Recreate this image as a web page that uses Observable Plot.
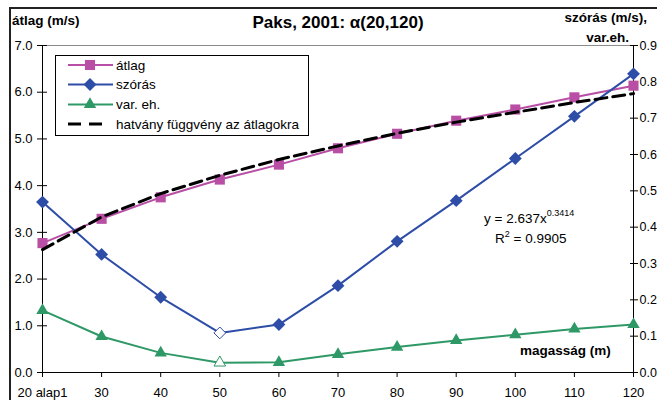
<!DOCTYPE html>
<html><head><meta charset="utf-8">
<script src="https://cdn.jsdelivr.net/npm/d3@7"></script>
<script src="https://cdn.jsdelivr.net/npm/@observablehq/plot@0.6"></script>
<style>
html,body{margin:0;padding:0;background:#fff;overflow:hidden;}
#wrap{position:relative;width:657px;height:400px;overflow:hidden;font-family:Arial,"Liberation Sans",sans-serif;background:#fff;}
#frame{position:absolute;left:9px;top:7px;width:720px;height:460px;border:2px solid #222;box-sizing:border-box;pointer-events:none}
.t{position:absolute;white-space:nowrap;color:#000;line-height:1;}
.b{font-weight:bold;}
svg.ov{position:absolute;left:0;top:0;pointer-events:none;overflow:visible}
</style></head><body><div id="wrap"><div id="frame"></div></div>
<script>
// ---- data ----
const heights = [20, 30, 40, 50, 60, 70, 80, 90, 100, 110, 120];
const xTickLabels = ["20 alap1", "30", "40", "50", "60", "70", "80", "90", "100", "110", "120"];
const atlag   = [2.77, 3.29, 3.75, 4.13, 4.45, 4.80, 5.11, 5.39, 5.63, 5.89, 6.14];
const szoras  = [0.469, 0.325, 0.207, 0.109, 0.132, 0.239, 0.361, 0.473, 0.589, 0.705, 0.822];
const varEh   = [0.171, 0.099, 0.054, 0.027, 0.028, 0.050, 0.070, 0.088, 0.104, 0.120, 0.132];
const hatvany = [2.63, 3.33, 3.83, 4.22, 4.56, 4.85, 5.12, 5.36, 5.57, 5.78, 5.97];
const leftTicks = [0, 1, 2, 3, 4, 5, 6, 7];
const rightTicks = [0, 0.1, 0.2, 0.3, 0.4, 0.5, 0.6, 0.7, 0.8, 0.9];
const hollowAt = 50;
const seriesNames = ["átlag", "szórás", "var. eh.", "hatvány függvény az átlagokra"];

const C_PINK = "#B84FA5", C_BLUE = "#2E4DA7", C_GREEN = "#2E9966";
const k = 7 / 0.9; // right axis -> left axis units

const rY = (arr) => (d, i) => arr[i] * k;

const plot = Plot.plot({
  width: 657, height: 400,
  marginLeft: 42, marginRight: 24, marginTop: 45, marginBottom: 28,
  style: {fontFamily: "Arial, 'Liberation Sans', sans-serif", fontSize: "13px", background: "transparent", overflow: "visible"},
  x: {type: "linear", domain: [20, 120]},
  y: {domain: [0, 7]},
  marks: [
    Plot.ruleY([7], {stroke: "#8c8c8c", strokeWidth: 1}),
    Plot.ruleY([0], {stroke: "#000", strokeWidth: 1}),
    Plot.ruleX([20, 120], {stroke: "#000", strokeWidth: 1}),
    Plot.axisX(heights, {tickSize: 5, tickPadding: 10, stroke: "#000", tickFormat: d => xTickLabels[heights.indexOf(d)], label: null, fontSize: 13}),
    Plot.axisY(leftTicks, {anchor: "left", tickSize: 10, dx: 5, stroke: "#000", tickFormat: () => "", label: null}),
    Plot.axisY(leftTicks, {anchor: "left", tickSize: 0, tickPadding: 10, tickFormat: d => d.toFixed(1), label: null, fontSize: 13}),
    Plot.axisY(rightTicks.map(v => v * k), {anchor: "right", tickSize: 8, dx: -4, stroke: "#000", tickFormat: () => "", label: null}),
    Plot.axisY(rightTicks.map(v => v * k), {anchor: "right", tickSize: 0, tickPadding: 6, tickFormat: d => (d / k).toFixed(1), label: null, fontSize: 12.5}),
    // átlag
    Plot.line(heights, {x: heights, y: atlag, stroke: C_PINK, strokeWidth: 2}),
    Plot.dot(heights, {x: heights, y: atlag, symbol: "square", r: 5.7, fill: C_PINK, stroke: "none"}),
    // szórás
    Plot.line(heights, {x: heights, y: rY(szoras), stroke: C_BLUE, strokeWidth: 2}),
    Plot.dot(heights, {x: heights, y: rY(szoras), filter: d => d !== hollowAt, symbol: "diamond2", r: 5.8, fill: C_BLUE, stroke: "none"}),
    Plot.dot(heights, {x: heights, y: rY(szoras), filter: d => d === hollowAt, symbol: "diamond2", r: 5.3, fill: "white", stroke: C_BLUE, strokeWidth: 1}),
    // var. eh.
    Plot.line(heights, {x: heights, y: rY(varEh), stroke: C_GREEN, strokeWidth: 2}),
    Plot.dot(heights, {x: heights, y: rY(varEh), filter: d => d !== hollowAt, symbol: "triangle", r: 4.6, fill: C_GREEN, stroke: "none"}),
    Plot.dot(heights, {x: heights, y: rY(varEh), filter: d => d === hollowAt, symbol: "triangle", r: 4.3, fill: "white", stroke: C_GREEN, strokeWidth: 1}),
    // power trendline
    Plot.line(heights, {x: heights, y: hatvany, stroke: "#000", strokeWidth: 3, strokeDasharray: "12,6"})
  ]
});
plot.style.position = "absolute"; plot.style.left = "0"; plot.style.top = "0";
const wrap = document.getElementById("wrap");
wrap.insertBefore(plot, wrap.firstChild);

function addText(html, css, cls) {
  const d = document.createElement("div");
  d.className = "t " + (cls || "");
  d.innerHTML = html;
  Object.assign(d.style, css);
  wrap.appendChild(d);
  return d;
}
addText("Paks, 2001: α(20,120)", {left: "0", width: "676px", textAlign: "center", top: "13.5px", fontSize: "17px"}, "b");
addText("átlag (m/s)", {left: "12px", top: "13.6px", fontSize: "13.5px"}, "b");
addText("szórás (m/s),", {right: "10px", top: "10.6px", fontSize: "13.5px"}, "b");
addText("var.eh.", {right: "28px", top: "30.6px", fontSize: "13.5px"}, "b");
addText("magasság (m)", {left: "520px", top: "343.6px", fontSize: "13.5px"}, "b");
addText('y = 2.637x<span style="font-size:9px;position:relative;top:-7px">0.3414</span>', {left: "484px", top: "211.6px", fontSize: "13.5px"});
addText('R<span style="font-size:9px;position:relative;top:-6px">2</span> = 0.9905', {left: "495px", top: "231.6px", fontSize: "13.5px"});

// legend
const lg = d3.select(wrap).append("svg").attr("class", "ov").attr("width", 657).attr("height", 400);
lg.append("rect").attr("x", 55.5).attr("y", 55.5).attr("width", 253).attr("height", 80)
  .attr("fill", "#fff").attr("stroke", "#000").attr("stroke-width", 1);
const rows = [65, 84.5, 104.5, 124];
const sym = [
  {c: C_PINK, s: d3.symbolSquare, r: 5.7},
  {c: C_BLUE, s: d3.symbolDiamond2, r: 5.8},
  {c: C_GREEN, s: d3.symbolTriangle, r: 4.6},
  null
];
seriesNames.forEach((name, i) => {
  const y = rows[i];
  if (i < 3) {
    lg.append("line").attr("x1", 68).attr("x2", 113).attr("y1", y).attr("y2", y)
      .attr("stroke", sym[i].c).attr("stroke-width", 2);
    lg.append("path").attr("transform", `translate(90,${y})`)
      .attr("d", d3.symbol(sym[i].s, Math.PI * sym[i].r * sym[i].r)()).attr("fill", sym[i].c);
  } else {
    lg.append("line").attr("x1", 68).attr("x2", 108).attr("y1", y).attr("y2", y)
      .attr("stroke", "#000").attr("stroke-width", 3).attr("stroke-dasharray", "13,8");
  }
  lg.append("text").attr("x", 116).attr("y", y + 4.8).text(name)
    .attr("font-family", "Arial, 'Liberation Sans', sans-serif").attr("font-size", 13.5).attr("fill", "#000");
});
</script></body></html>
